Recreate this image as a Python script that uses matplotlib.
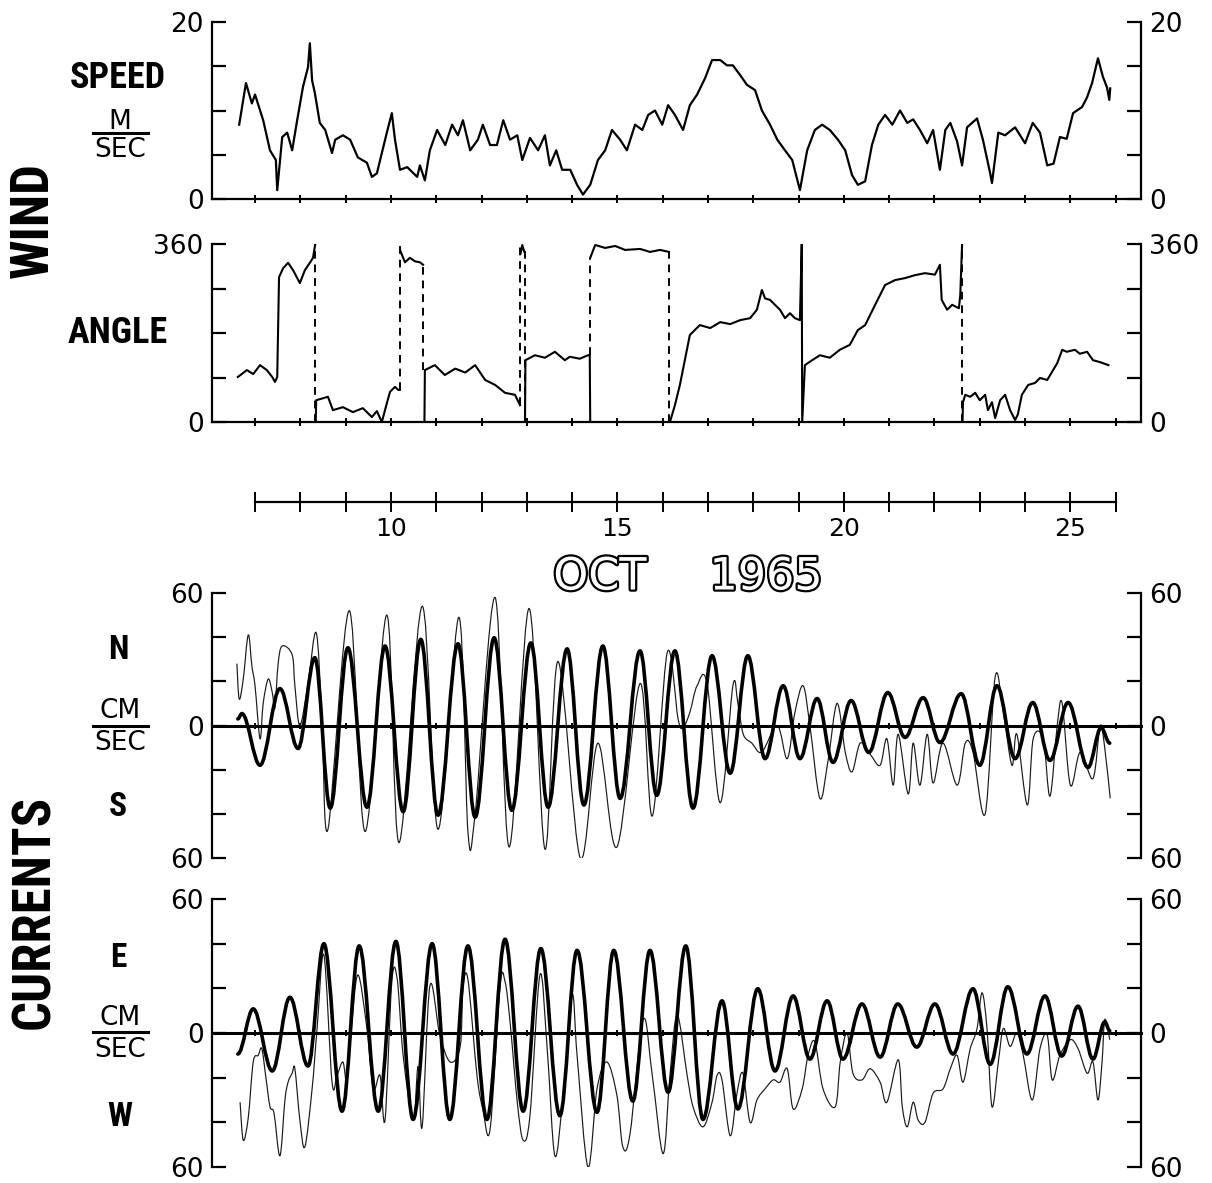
import matplotlib
matplotlib.use('Agg')
import matplotlib.pyplot as plt
import matplotlib.patheffects as pe
import numpy as np
from matplotlib.path import Path
from matplotlib.patches import PathPatch
from matplotlib.lines import Line2D

# ---- data (x = day of Oct 1965) ----
speed_day = [6.65, 6.80, 6.93, 7.00, 7.18, 7.33, 7.46, 7.49, 7.60, 7.71,
             7.82, 7.93, 8.06, 8.17, 8.21, 8.26, 8.32, 8.43, 8.55, 8.70,
             8.77, 8.94, 9.10, 9.27, 9.47, 9.58, 9.69, 9.80, 9.91, 10.02,
             10.09, 10.20, 10.36, 10.58, 10.64, 10.75, 10.86, 11.02, 11.20, 11.35,
             11.48, 11.59, 11.75, 11.92, 12.03, 12.19, 12.34, 12.48, 12.63, 12.79,
             12.90, 13.07, 13.25, 13.40, 13.51, 13.65, 13.78, 13.96, 14.11, 14.24,
             14.40, 14.57, 14.73, 14.88, 15.06, 15.21, 15.39, 15.55, 15.68, 15.83,
             15.99, 16.12, 16.27, 16.45, 16.60, 16.76, 16.94, 17.09, 17.27, 17.42,
             17.55, 17.71, 17.86, 18.04, 18.19, 18.37, 18.53, 18.70, 18.86, 19.03,
             19.19, 19.36, 19.52, 19.69, 19.87, 20.03, 20.18, 20.31, 20.47, 20.62,
             20.76, 20.91, 21.07, 21.24, 21.40, 21.53, 21.68, 21.84, 21.97, 22.12,
             22.24, 22.35, 22.50, 22.61, 22.72, 22.94, 23.07, 23.23, 23.27, 23.41,
             23.56, 23.78, 24.00, 24.17, 24.33, 24.49, 24.63, 24.77, 24.92, 25.06,
             25.26, 25.37, 25.48, 25.61, 25.72, 25.81, 25.86, 25.88]
speed_val = [8.4, 13.1, 10.8, 11.8, 8.9, 5.5, 4.4, 1.0, 7.0, 7.5,
             5.5, 8.9, 12.7, 14.9, 17.6, 13.4, 12.0, 8.6, 7.8, 5.2,
             6.7, 7.2, 6.7, 4.7, 4.1, 2.5, 2.9, 5.2, 7.5, 9.7,
             6.7, 3.3, 3.6, 2.5, 3.8, 2.1, 5.5, 7.8, 6.1, 8.4,
             7.2, 8.9, 5.5, 6.7, 8.4, 6.1, 6.1, 8.9, 6.7, 7.2,
             4.4, 6.9, 5.5, 7.2, 3.8, 5.5, 3.3, 3.3, 1.6, 0.5,
             1.6, 4.4, 5.5, 7.8, 6.7, 5.5, 8.4, 7.8, 9.5, 10.0,
             8.4, 10.6, 9.5, 7.8, 10.6, 11.8, 13.7, 15.7, 15.7, 15.1,
             15.1, 14.0, 12.9, 12.3, 10.0, 8.4, 6.7, 5.5, 4.4, 1.0,
             5.5, 7.8, 8.4, 7.8, 6.7, 5.5, 2.7, 1.6, 2.0, 6.1,
             8.4, 9.5, 8.4, 10.0, 8.6, 9.0, 7.8, 6.3, 7.8, 3.3,
             7.8, 8.6, 6.5, 3.8, 8.1, 9.1, 6.7, 2.9, 1.8, 7.5,
             7.2, 8.1, 6.3, 8.6, 7.5, 3.8, 4.0, 7.0, 6.8, 9.7,
             10.4, 11.5, 13.1, 15.9, 13.8, 12.6, 11.2, 12.5]

nan = np.nan
# wind angle, nan splits the pieces between 360/0 wraps
angle_day = [6.62, 6.82, 6.96, 7.11, 7.26, 7.38, 7.44, 7.49, 7.53, 7.62, 7.73, 7.84, 7.99, 8.10, 8.21, 8.28, 8.33, nan,
             8.34, 8.35, 8.61, 8.72, 8.94, 9.16, 9.38, 9.58, 9.69, 9.80, 9.91, 9.98, 10.09, 10.16, 10.20, nan,
             10.20, 10.31, 10.42, 10.53, 10.64, 10.71, nan,
             10.74, 10.75, 10.97, 11.19, 11.42, 11.64, 11.86, 12.08, 12.30, 12.52, 12.74, 12.85, nan,
             12.86, 12.90, 12.94, nan,
             12.96, 12.97, 13.18, 13.40, 13.62, 13.84, 13.95, 14.17, 14.35, 14.39, 14.40, nan,
             14.40, 14.51, 14.73, 14.95, 15.17, 15.50, 15.72, 15.94, 16.14, nan,
             16.16, 16.27, 16.38, 16.49, 16.60, 16.82, 17.05, 17.27, 17.49, 17.71, 17.93, 18.08, 18.19,
             18.26, 18.37, 18.48, 18.59, 18.70, 18.81, 18.92, 19.03, 19.07, 19.08, 19.14, 19.30, 19.47,
             19.69, 19.91, 20.13, 20.31, 20.47, 20.69, 20.91, 21.13, 21.35, 21.57, 21.79, 22.01, 22.12,
             22.16, 22.28, 22.39, 22.54, 22.57, 22.61, nan,
             22.62, 22.63, 22.68, 22.79, 22.90, 23.00, 23.12, 23.18, 23.27, 23.34, 23.45, 23.56, 23.67,
             23.78, 23.84, 23.93, 24.07, 24.22, 24.33, 24.49, 24.71, 24.82, 24.92, 25.10, 25.21, 25.37,
             25.50, 25.66, 25.84]
angle_val = [91, 105, 97, 115, 105, 91, 81, 91, 293, 311, 322, 307, 281, 307, 322, 332, 360, nan,
             0, 44, 51, 24, 30, 20, 28, 10, 22, 0, 38, 61, 71, 65, 65, nan,
             348, 323, 332, 325, 323, 318, nan,
             0, 105, 115, 95, 108, 100, 115, 85, 75, 59, 55, 34, nan,
             340, 358, 345, nan,
             0, 125, 135, 130, 142, 125, 132, 128, 135, 135, 0, nan,
             332, 358, 352, 356, 348, 350, 344, 348, 344, nan,
             0, 34, 75, 125, 176, 196, 190, 202, 198, 206, 210, 227, 267,
             250, 247, 237, 227, 210, 220, 210, 206, 360, 0, 115, 125, 135,
             130, 146, 156, 186, 196, 237, 277, 287, 291, 297, 301, 298, 318,
             247, 227, 237, 230, 257, 360, nan,
             0, 40, 55, 51, 59, 44, 55, 24, 40, 8, 44, 55, 24,
             4, 15, 55, 75, 79, 89, 85, 119, 146, 142, 146, 138, 142,
             125, 121, 115]
# dashed connectors where the angle wraps through north
wrap_day = [8.33, 10.20, 10.71, 12.85, 12.95, 14.40, 16.15, 22.61]
wrap_lo = [0, 65, 105, 34, 0, 135, 0, 0]
wrap_hi = [360, 360, 318, 360, 345, 332, 344, 360]

# N-S current: smooth (thick) curve given by its extrema, observed (thin) trace
nthick_day = [6.62, 6.71, 7.11, 7.55, 7.95, 8.32, 8.66, 9.05, 9.47, 9.87,
              10.27, 10.66, 11.04, 11.48, 11.86, 12.28, 12.67, 13.09, 13.47, 13.89,
              14.26, 14.68, 15.06, 15.50, 15.87, 16.27, 16.67, 17.09, 17.49, 17.88,
              18.26, 18.66, 19.03, 19.41, 19.76, 20.16, 20.55, 20.97, 21.35, 21.75,
              22.12, 22.59, 23.00, 23.38, 23.78, 24.17, 24.55, 24.95, 25.39, 25.68,
              25.87]
nthick_val = [3, 5.4, -18, 16.7, -10.4, 30.7, -37.4, 35.2, -37, 36,
              -39, 39, -40.6, 37, -41.5, 39.7, -38.4, 37.4, -37, 34.7,
              -36, 36, -33, 33.8, -31.6, 33.8, -37.4, 31.6, -21.6, 31.6,
              -15, 18, -15, 12.2, -16.7, 11.3, -12.2, 14.9, -5.4, 12.6,
              -7.7, 14.4, -18, 18, -15, 10.4, -15.8, 10.4, -19, -1,
              -8]
nthin_day = [6.60, 6.65, 6.74, 6.85, 6.93, 7.00, 7.11, 7.18, 7.29, 7.38,
             7.44, 7.51, 7.60, 7.82, 7.88, 7.99, 8.17, 8.35, 8.48, 8.61,
             9.08, 9.43, 9.91, 10.18, 10.69, 11.04, 11.50, 11.70, 11.86, 12.30,
             12.61, 13.05, 13.40, 13.69, 14.18, 14.57, 14.99, 15.50, 15.77, 16.10,
             16.34, 16.45, 16.60, 16.76, 16.98, 17.27, 17.55, 17.66, 17.78, 17.97,
             18.19, 18.53, 18.75, 18.92, 19.10, 19.25, 19.47, 19.65, 19.85, 20.03,
             20.18, 20.36, 20.58, 20.80, 20.95, 21.09, 21.20, 21.42, 21.53, 21.68,
             21.84, 21.97, 22.19, 22.50, 22.68, 22.85, 23.12, 23.34, 23.52, 23.71,
             23.82, 24.05, 24.18, 24.40, 24.55, 24.71, 24.82, 25.00, 25.22, 25.50,
             25.66, 25.77, 25.88]
nthin_val = [28, 12, 21, 41, 27, 18, -6, 10, 21, 15,
             8, 28, 36, 32, 18, 0, 19, 42, 3, -47,
             52, -48, 50, -53, 54, -47, 49, -48, -40, 58,
             -55, 53, -56, 29, -60, -8, -55, 19, -41, 33,
             3, -1, 6, 18, 19, -35, 18, 10, -4, -8,
             -12, 0, -15, 6, 18, 0, -33, -16, 10, -12,
             -21, -8, -13, -18, -6, -27, -4, -31, -8, -27,
             -4, -26, -8, -27, -8, -12, -40, 22, 6, -18,
             -4, -36, -6, -6, -32, 0, 10, -27, -12, -24,
             0, -12, -33]

# E-W current
ethick_day = [6.62, 6.96, 7.38, 7.77, 8.17, 8.52, 8.92, 9.30, 9.72, 10.11,
              10.49, 10.91, 11.30, 11.70, 12.12, 12.52, 12.92, 13.31, 13.73, 14.11,
              14.55, 14.92, 15.34, 15.72, 16.12, 16.51, 16.89, 17.31, 17.66, 18.10,
              18.48, 18.88, 19.25, 19.63, 19.98, 20.40, 20.80, 21.19, 21.61, 22.01,
              22.41, 22.85, 23.23, 23.62, 24.04, 24.44, 24.81, 25.17, 25.50, 25.76,
              25.87]
ethick_val = [-9.4, 10.8, -17, 16, -14.8, 40, -35, 39, -35, 41,
              -38.7, 40, -38.7, 39, -38.7, 42, -35, 37.8, -37, 37,
              -35.5, 37, -30.5, 37, -26.5, 39, -38.7, 14.4, -34, 19.8,
              -17, 16.6, -11.7, 14.4, -11.7, 13, -10.8, 13, -6.3, 13,
              -9.4, 19.8, -14, 20.7, -9.4, 16.6, -10.3, 12, -11.7, 5,
              1]
ethin_day = [6.67, 6.74, 6.85, 6.96, 7.07, 7.15, 7.24, 7.33, 7.42, 7.55,
             7.66, 7.73, 7.82, 7.88, 7.99, 8.10, 8.26, 8.37, 8.52, 8.70,
             8.81, 8.94, 9.03, 9.12, 9.27, 9.47, 9.61, 9.76, 9.87, 10.02,
             10.14, 10.27, 10.49, 10.60, 10.69, 10.86, 11.08, 11.31, 11.53, 11.59,
             11.70, 11.90, 12.03, 12.19, 12.41, 12.52, 12.63, 12.79, 12.92, 13.07,
             13.29, 13.45, 13.62, 13.80, 14.00, 14.11, 14.35, 14.55, 14.77, 14.99,
             15.12, 15.28, 15.57, 15.77, 16.01, 16.16, 16.32, 16.54, 16.67, 16.89,
             17.09, 17.20, 17.31, 17.49, 17.64, 17.77, 17.93, 18.08, 18.26, 18.44,
             18.59, 18.75, 18.88, 19.08, 19.21, 19.36, 19.54, 19.81, 19.92, 20.07,
             20.20, 20.40, 20.58, 20.80, 20.95, 21.20, 21.29, 21.40, 21.53, 21.64,
             21.79, 21.97, 22.19, 22.35, 22.50, 22.63, 22.79, 22.94, 23.05, 23.16,
             23.27, 23.41, 23.52, 23.67, 23.82, 23.96, 24.16, 24.33, 24.49, 24.60,
             24.77, 25.00, 25.17, 25.37, 25.50, 25.61, 25.70, 25.76, 25.87]
ethin_val = [-31, -48, -38, -13, -10, -7, -20, -33, -36, -55,
             -30, -22, -18, -16, -39, -51, -25, 2, 35, -22,
             -19, -13, -22, 0, 26, 2, -25, -19, -39, 23,
             24, -10, -39, -15, -42, 21, -1, -13, -6, 20,
             24, -19, -34, -43, 21, 23, 5, -31, -48, -37,
             26, -7, -55, -28, 17, -10, -60, -25, -13, -28,
             -51, -45, 6, -19, -54, -19, 8, -19, -33, -42,
             -31, -19, -21, -46, -27, -18, -40, -30, -25, -21,
             -22, -16, -34, -25, -10, -4, -25, -33, -13, 0,
             -18, -21, -16, -22, -31, -12, -33, -42, -31, -39,
             -40, -27, -25, -16, -10, -22, -7, 2, 18, 2,
             -33, -13, 2, -6, 0, -10, -30, -7, -1, -21,
             -10, -3, -7, -18, -13, -30, -13, 6, -3]

days = list(range(7, 27))
day_labels = ['' if d % 5 else str(d) for d in days]

# ---- layout ----
W_PX, H_PX = 1212, 1183
XMIN, XMAX = 6.05, 26.56
LW_AX = 1.6
BOLD = ['DejaVu Sans Condensed', 'Liberation Sans Narrow', 'Noto Sans Condensed',
        'Roboto Condensed', 'DejaVu Sans']
plt.rcParams['font.family'] = 'DejaVu Sans'


def fx(px):
    return px / W_PX


def fy(py):
    return 1 - py / H_PX


def wave(ax, t, v, lw=2.6):
    # smooth curve through the extrema with a flat tangent at each one
    verts = [(t[0], v[0])]
    codes = [Path.MOVETO]
    for i in range(len(t) - 1):
        d = 0.36 * (t[i + 1] - t[i])
        verts += [(t[i] + d, v[i]), (t[i + 1] - d, v[i + 1]), (t[i + 1], v[i + 1])]
        codes += [Path.CURVE4] * 3
    ax.add_patch(PathPatch(Path(verts, codes), fc='none', ec='k', lw=lw,
                           joinstyle='round', capstyle='round', zorder=3))


def trace(ax, t, v, lw=0.85):
    p = np.column_stack([t, v]).astype(float)
    q = np.vstack([p[0], p, p[-1]])
    verts = [tuple(p[0])]
    codes = [Path.MOVETO]
    for i in range(1, len(q) - 2):
        verts += [tuple(q[i] + (q[i + 1] - q[i - 1]) / 6),
                  tuple(q[i + 1] - (q[i + 2] - q[i]) / 6), tuple(q[i + 1])]
        codes += [Path.CURVE4] * 3
    ax.add_patch(PathPatch(Path(verts, codes), fc='none', ec='#1a1a1a', lw=lw, zorder=2))


def frame(ax, ylim, yt, ylab, xtick_len=6):
    ax.set_xlim(XMIN, XMAX)
    ax.set_ylim(*ylim)
    ax.patch.set_alpha(0)
    ax.spines['top'].set_visible(False)
    for s in ['left', 'right', 'bottom']:
        ax.spines[s].set_linewidth(LW_AX)
    ax.set_yticks(yt)
    ax.set_yticklabels(ylab)
    ax.tick_params(axis='y', direction='in', length=10, width=LW_AX, left=True, right=True,
                   labelleft=True, labelright=True, labelsize=19, pad=6)
    ax.set_xticks(days)
    ax.tick_params(axis='x', direction='inout', length=xtick_len, width=1.4, labelbottom=False)


fig = plt.figure(figsize=(W_PX / 100, H_PX / 100), dpi=100)
L, WD = fx(212), fx(1141) - fx(212)

# wind speed
ax1 = fig.add_axes([L, fy(199), WD, fy(22) - fy(199)])
frame(ax1, (0, 20), [0, 5, 10, 15, 20], ['0', '', '', '', '20'])
ax1.plot(speed_day, speed_val, color='k', lw=1.6, solid_joinstyle='round')

# wind angle
ax2 = fig.add_axes([L, fy(422), WD, fy(244) - fy(422)])
frame(ax2, (0, 360), [0, 90, 180, 270, 360], ['0', '', '', '', '360'])
ax2.plot(angle_day, angle_val, color='k', lw=1.5, solid_joinstyle='round')
ax2.vlines(wrap_day, wrap_lo, wrap_hi, colors='k', linestyles=(0, (4, 3)), lw=1.4)

# separate date axis
axd = fig.add_axes([L, fy(502), WD, 0.02])
axd.set_xlim(XMIN, XMAX)
axd.patch.set_alpha(0)
for s in ['left', 'right', 'top']:
    axd.spines[s].set_visible(False)
axd.spines['bottom'].set_bounds(7, 26)
axd.spines['bottom'].set_linewidth(1.6)
axd.set_yticks([])
axd.set_xticks(days)
axd.set_xticklabels(day_labels)
axd.tick_params(axis='x', direction='inout', length=14, width=1.4, labelsize=18, pad=4)
outline = [pe.withStroke(linewidth=3.2, foreground='black')]
fig.text(fx(600), fy(577), 'OCT', ha='center', va='center', fontsize=32,
         color='white', path_effects=outline)
fig.text(fx(766), fy(577), '1965', ha='center', va='center', fontsize=32,
         color='white', path_effects=outline)

# currents
cur_ticks = [-60, -40, -20, 0, 20, 40, 60]
cur_labels = ['60', '', '', '0', '', '', '60']
ax3 = fig.add_axes([L, fy(858), WD, fy(593) - fy(858)])
ax4 = fig.add_axes([L, fy(1167), WD, fy(899) - fy(1167)])
for ax, td, tv, od, ov in [(ax3, nthick_day, nthick_val, nthin_day, nthin_val),
                           (ax4, ethick_day, ethick_val, ethin_day, ethin_val)]:
    frame(ax, (-60, 60), cur_ticks, cur_labels, xtick_len=4)
    ax.spines['bottom'].set_position(('data', 0))
    ax.spines['bottom'].set_linewidth(2.2)
    trace(ax, od, ov)
    wave(ax, td, tv)


# left-hand labels
def label(px, py, s, size, **kw):
    fig.text(fx(px), fy(py), s, ha='center', va='center', fontsize=size, **kw)


heavy = dict(fontweight='bold', family=BOLD, fontstretch='condensed')
label(118, 78, 'SPEED', 26, **heavy)
label(118, 333, 'ANGLE', 26, **heavy)
label(118, 650, 'N', 24, **heavy)
label(118, 807, 'S', 24, **heavy)
label(118, 958, 'E', 24, **heavy)
label(120, 1117, 'W', 24, **heavy)
label(33, 220, 'WIND', 38, rotation=90, **heavy)
label(35, 912, 'CURRENTS', 38, rotation=90, **heavy)

for num, yn, yl, yd in [('M', 122, 133, 150), ('CM', 711, 726, 743), ('CM', 1018, 1032, 1050)]:
    label(120, yn, num, 19)
    label(120, yd, 'SEC', 19)
    fig.add_artist(Line2D([fx(93), fx(148)], [fy(yl), fy(yl)], color='k', lw=2.2,
                          transform=fig.transFigure))

fig.savefig('out.png', dpi=100)
